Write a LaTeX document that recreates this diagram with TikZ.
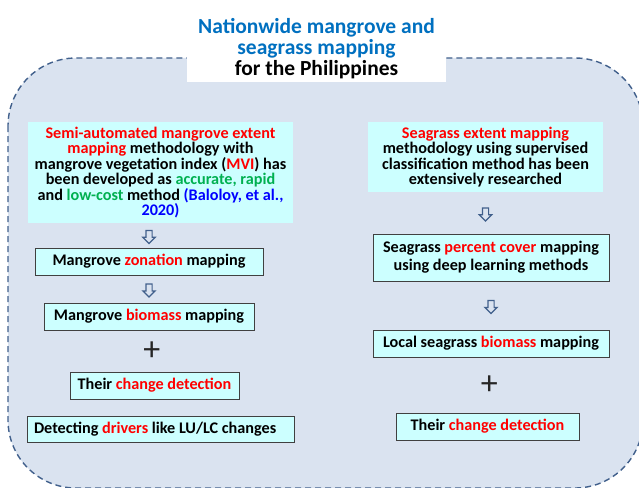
\documentclass[tikz,border=0pt]{standalone}
\usepackage{fontspec}
\setmainfont{Carlito}
\usetikzlibrary{shapes.arrows,calc}
\definecolor{bgfill}{HTML}{DAE3F0}
\definecolor{dashcol}{HTML}{41608C}
\definecolor{boxcyan}{HTML}{CCFFFF}
\definecolor{boxedge}{HTML}{404040}
\definecolor{titleblue}{HTML}{0070C0}
\definecolor{redtxt}{HTML}{FF0000}
\definecolor{greentxt}{HTML}{00B050}
\definecolor{bluetxt}{HTML}{0000FF}
\definecolor{arrowcol}{HTML}{41608C}
\newcommand\redt[1]{\textcolor{redtxt}{#1}}
\newcommand\grnt[1]{\textcolor{greentxt}{#1}}
\newcommand\blut[1]{\textcolor{bluetxt}{#1}}
\begin{document}
\begin{tikzpicture}[x=1pt,y=-1pt,
  body/.style={font=\bfseries\fontsize{16.2}{15.4}\selectfont, text=black},
  infobox/.style={body, fill=boxcyan, inner sep=0pt, align=center},
  mapbox/.style={body, fill=boxcyan, draw=boxedge, line width=0.9pt, inner sep=0pt, minimum height=27pt, align=center},
  downarrow/.style={single arrow, shape border rotate=270, draw=arrowcol, fill=bgfill, line width=1.2pt, inner sep=2.5pt, minimum height=13pt, single arrow head extend=3pt, single arrow head indent=0pt},
  plussign/.style={font=\fontsize{34}{34}\selectfont, text=black!85, inner sep=0pt},
  titlebox/.style={fill=white, inner sep=0pt, align=center, font=\bfseries\fontsize{21.5}{21}\selectfont},
  outerpanel/.style={draw=dashcol, fill=bgfill, dash pattern=on 6pt off 4pt, line width=1.4pt, rounded corners=68pt}
]
\useasboundingbox (0,0) rectangle (639,487);
\clip (0,0) rectangle (639,487);
\fill[white] (0,0) rectangle (639,487);
\draw[outerpanel] (8,58) rectangle (643,488);

\node[titlebox, minimum width=259pt, minimum height=66pt] (title) at (316.5,49)
  {\textcolor{titleblue}{Nationwide mangrove and}\\
   \textcolor{titleblue}{seagrass mapping}\\
   for the Philippines};

% left column
\node[infobox, minimum width=265pt, minimum height=101pt] (L1) at (160.5,172.5)
  {\redt{Semi-automated mangrove extent}\\
   \redt{mapping} methodology with\\
   mangrove vegetation index (\redt{MVI}) has\\
   been developed as \grnt{accurate, rapid}\\
   and \grnt{low-cost} method \blut{(Baloloy, et al.,}\\
   \blut{2020)}};
\node[mapbox, minimum width=228pt] (L2) at (149,261.5) {Mangrove \redt{zonation} mapping};
\node[mapbox, minimum width=210pt] (L3) at (149,316.5) {Mangrove \redt{biomass} mapping};
\node[mapbox, minimum width=169pt] (L4) at (154.5,385.5) {Their \redt{change detection}};
\node[mapbox, minimum height=26pt, minimum width=267pt] (L5) at (160.5,429)
  {\makebox[253pt][l]{Detecting \redt{drivers} like LU/LC changes}};

\coordinate (lm1) at ($(L1.south)!0.5!(L2.north)$);
\coordinate (lm2) at ($(L2.south)!0.5!(L3.north)$);
\node[downarrow] (LA1) at (lm1 -| L2.north) {};
\node[downarrow] (LA2) at (lm2 -| L2.north) {};
\node[plussign] (LP) at ($(L3.south)!0.5!(L4.north)$) {+};

% right column
\node[infobox, minimum width=235pt, minimum height=70pt] (R1) at (485.5,157)
  {\redt{Seagrass extent mapping}\\
   methodology using supervised\\
   classification method has been\\
   extensively researched};
\node[mapbox, minimum width=236pt, minimum height=47pt, font=\bfseries\fontsize{16.2}{18}\selectfont] (R2) at (491,257.5)
  {Seagrass \redt{percent cover} mapping\\ using deep learning methods};
\node[mapbox, minimum width=236pt] (R3) at (491,343.5) {Local seagrass \redt{biomass} mapping};
\node[mapbox, minimum width=183pt] (R4) at (487.5,426.5) {Their \redt{change detection}};

\coordinate (rm1) at ($(R1.south)!0.5!(R2.north)$);
\coordinate (rm2) at ($(R2.south)!0.5!(R3.north)$);
\node[downarrow] (RA1) at (rm1 -| R1.south) {};
\node[downarrow] (RA2) at (rm2 -| R2.south) {};
\node[plussign] (RP) at ($(R3.south)!0.5!(R4.north)$) {+};
\end{tikzpicture}
\end{document}
